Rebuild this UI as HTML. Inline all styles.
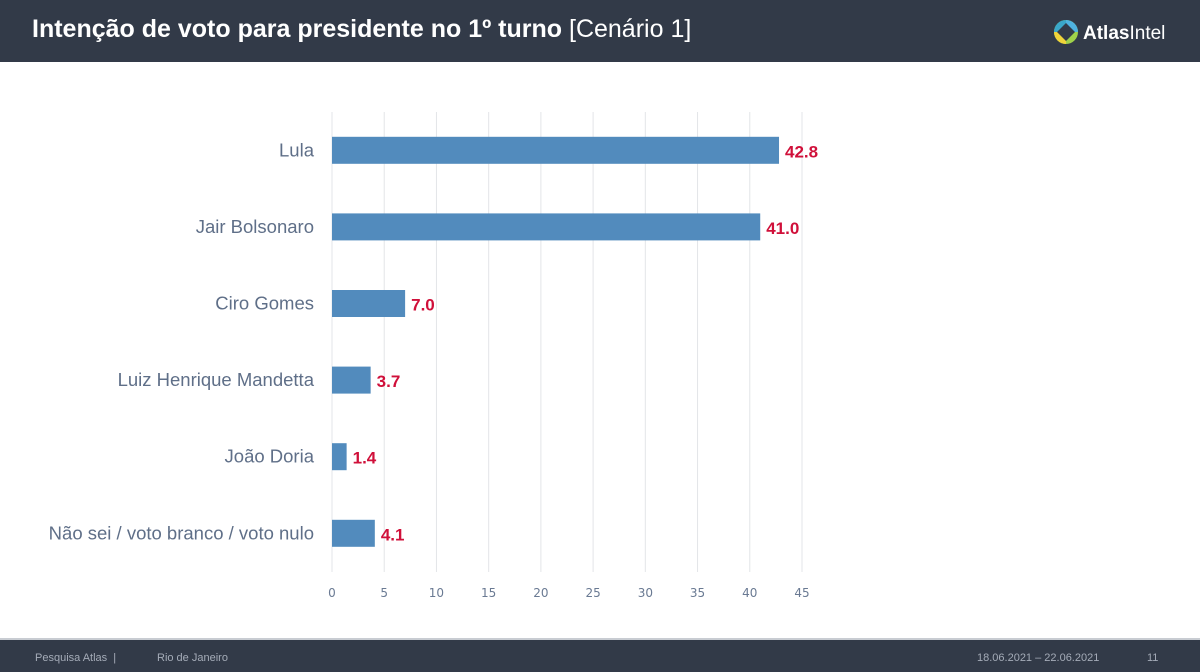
<!DOCTYPE html>
<html><head><meta charset="utf-8"><style>
body{margin:0;width:1200px;height:672px;background:#fff;position:relative;overflow:hidden;font-family:"Liberation Sans",sans-serif}
#hdr{position:absolute;left:0;top:0;width:1200px;height:62px;background:#323a48}
#ttl{position:absolute;left:32px;top:15px;color:#fff;font-size:25px;font-weight:bold;white-space:nowrap}
#ttl span{font-weight:normal}
#ftr{position:absolute;left:0;top:638px;width:1200px;height:34px;background:#323a48;border-top:2px solid #c8ccd2;box-sizing:border-box}
.ft{position:absolute;top:12px;font-size:11px;color:#a5acb8}
</style></head><body>
<div id="hdr">
<div id="ttl">Intenção de voto para presidente no 1º turno <span>[Cenário 1]</span></div>
<svg style="position:absolute;left:1052px;top:18px" width="140" height="28">
<circle cx="14" cy="14" r="12" fill="#9fd14a"/><path d="M14 2 A12 12 0 0 1 26 14 L14 14Z" fill="#4fb3e0"/><path d="M2 14 A12 12 0 0 1 14 2 L14 14Z" fill="#3aa7c9"/><path d="M14 26 A12 12 0 0 1 2 14 L14 14Z" fill="#f0d43a"/>
<path d="M14 5 L23 14 L14 23 L5 14Z" fill="#323a48"/>
<text x="31" y="21" fill="#fff" font-size="19" font-family="Liberation Sans" font-weight="bold">Atlas<tspan font-weight="normal">Intel</tspan></text></svg>
</div>
<svg id="chart" width="1200" height="672" style="position:absolute;left:0;top:0"></svg>
<div id="ftr">
<div class="ft" style="left:35px">Pesquisa Atlas &nbsp;|</div>
<div class="ft" style="left:157px">Rio de Janeiro</div>
<div class="ft" style="left:977px">18.06.2021 – 22.06.2021</div>
<div class="ft" style="left:1147px">11</div>
</div>
<script>
const categories=["Lula","Jair Bolsonaro","Ciro Gomes","Luiz Henrique Mandetta","João Doria","Não sei / voto branco / voto nulo"];
const values=[42.8,41.0,7.0,3.7,1.4,4.1];
const ticks=[0,5,10,15,20,25,30,35,40,45];
const svg=document.getElementById('chart');const NS='http://www.w3.org/2000/svg';
const x0=332,x1=802,vmax=45,yTop=112,step=76.6;
const X=v=>x0+(x1-x0)*v/vmax;const Y=i=>yTop+step*(i+0.5);
function mk(t,a){const e=document.createElementNS(NS,t);for(const k in a)e.setAttribute(k,a[k]);svg.appendChild(e);return e;}
ticks.forEach(t=>{const l=mk('line',{x1:X(t),x2:X(t),y1:112,y2:572,stroke:'#e3e5e8','stroke-width':1});


const tx=mk('text',{x:X(t),y:597,'text-anchor':'middle','font-size':12,fill:'#6a7a93','font-family':'DejaVu Sans'});tx.textContent=t;

});
categories.forEach((c,i)=>{const y=Y(i);
const r=mk('rect',{x:x0,y:y-13.5,width:X(values[i])-x0,height:27,fill:'#528bbd'});


const lb=mk('text',{x:314,y:y+6,'text-anchor':'end','font-size':18.5,fill:'#5f6f88','font-family':'Liberation Sans'});lb.textContent=c;


const v=mk('text',{x:X(values[i])+6,y:y+7,'font-size':17,'font-weight':'bold',fill:'#d0103a','font-family':'Liberation Sans'});v.textContent=values[i].toFixed(1);

});
</script>
</body></html>
